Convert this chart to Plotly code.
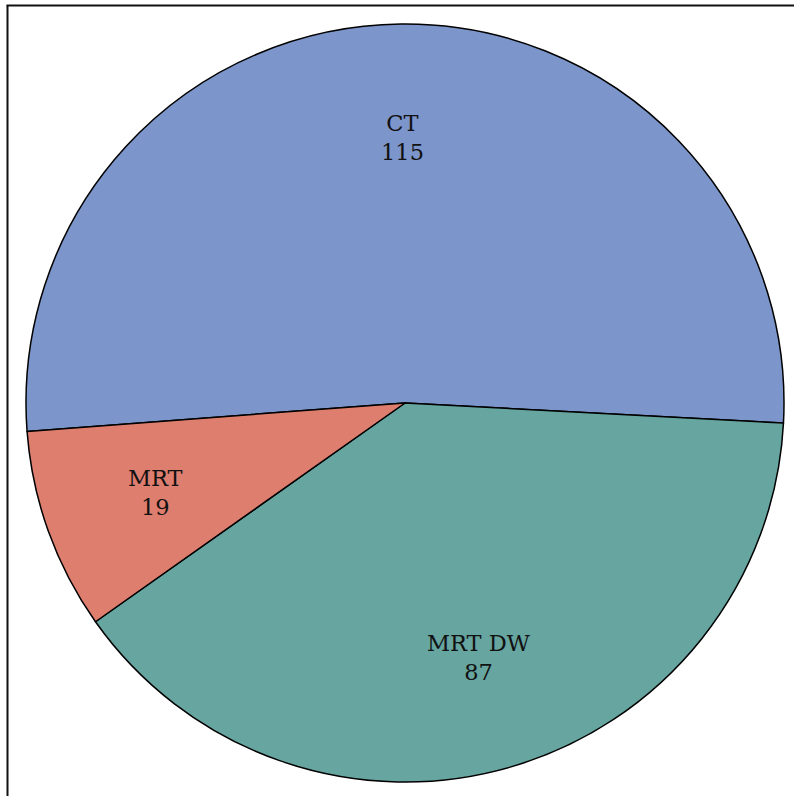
import math
import plotly.graph_objects as go

# Data
categories = ["CT", "MRT DW", "MRT"]
counts = [115, 87, 19]
colors = ["#7C95CA", "#66A5A0", "#DE7E6F"]

W, H = 794, 796
cx, cy, R = 405, 403, 379
start_deg = 184.3  # math angle (ccw from east) where first slice begins; slices go clockwise
label_frac = 0.70

fig = go.Figure()
fig.add_trace(go.Pie(
    labels=categories,
    values=counts,
    sort=False,
    direction="clockwise",
    rotation=90 - start_deg,
    marker=dict(colors=colors, line=dict(color="#000000", width=1.5)),
    textinfo="none",
    hoverinfo="label+value",
    showlegend=False,
    domain=dict(x=[(cx - R) / W, (cx + R) / W], y=[1 - (cy + R) / H, 1 - (cy - R) / H]),
))

# Labels at the slice mid-angles
total = sum(counts)
ang = start_deg
annotations = []
for cat, v in zip(categories, counts):
    span = v / total * 360
    mid = math.radians(ang - span / 2)
    ang -= span
    px = cx + label_frac * R * math.cos(mid)
    py = cy - label_frac * R * math.sin(mid)
    annotations.append(dict(
        x=px / W, y=1 - py / H, xref="paper", yref="paper",
        text=f"{cat}<br>{v}", showarrow=False,
        xanchor="center", yanchor="middle",
        font=dict(family="DejaVu Serif", size=22.5, color="#111111"),
    ))

fig.update_layout(
    width=W, height=H,
    margin=dict(l=0, r=0, t=0, b=0),
    paper_bgcolor="white",
    plot_bgcolor="white",
    annotations=annotations,
    shapes=[
        dict(type="line", xref="paper", yref="paper",
             x0=7.5 / W, x1=7.5 / W, y0=0, y1=1 - 5.5 / H,
             line=dict(color="#111111", width=2)),
        dict(type="line", xref="paper", yref="paper",
             x0=6.5 / W, x1=1, y0=1 - 5.5 / H, y1=1 - 5.5 / H,
             line=dict(color="#111111", width=2)),
    ],
)

fig.write_html("out.html")
